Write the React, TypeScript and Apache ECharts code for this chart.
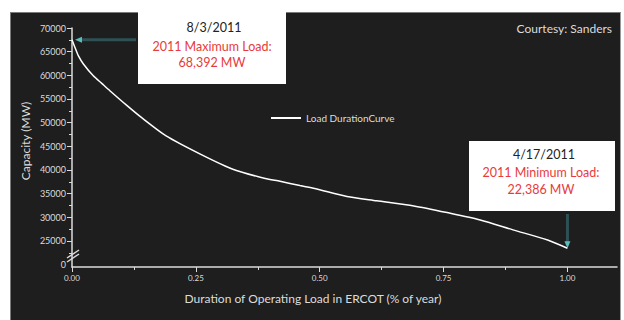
import React, { useEffect, useRef } from "react";
import * as echarts from "echarts";

const durationShare: number[] = [
  0, 0.006, 0.013, 0.023, 0.043, 0.06, 0.077, 0.11, 0.14, 0.19, 0.26, 0.326,
  0.39, 0.42, 0.46, 0.49, 0.555, 0.615, 0.69, 0.757, 0.824, 0.89, 0.96, 1.0,
];
const capacityMW: number[] = [
  67500, 65900, 64100, 62400, 59900, 58300, 56700, 53700, 51100, 47200, 43300,
  40100, 38200, 37600, 36700, 36100, 34400, 33500, 32400, 31000, 29450, 27350,
  25200, 23450,
];
const yMajorTicks: number[] = [25000, 30000, 35000, 40000, 45000, 50000, 55000, 60000, 65000, 70000];
const yMinorTicks: number[] = [22500, 27500, 32500, 37500, 42500, 47500, 52500, 57500, 62500, 67500];
const yLabelValues: number[] = [20000, ...yMajorTicks];
const xMajorTicks: number[] = [0, 0.25, 0.5, 0.75, 1.0];
const xMinorTicks: number[] = [0.125, 0.375, 0.625, 0.875];

const seriesName = "Load DurationCurve";
const maxDate = "8/3/2011";
const maxLabel = "2011 Maximum Load:";
const maxValue = "68,392 MW";
const minDate = "4/17/2011";
const minLabel = "2011 Minimum Load:";
const minValue = "22,386 MW";
const courtesy = "Courtesy: Sanders";
const xName = "Duration of Operating Load in ERCOT (% of year)";
const yName = "Capacity (MW)";

const FONT = "Lato, 'Open Sans', sans-serif";
const AX = "#dcdcdc";
const RED = "#e83a3c";

export default function App() {
  const ref = useRef<HTMLDivElement>(null);
  useEffect(() => {
    if (!ref.current) return;
    const chart = echarts.init(ref.current, undefined, { renderer: "svg" });
    const data = durationShare.map((x, i) => [x, capacityMW[i]]);
    const axisCommon = {
      min: 19500,
      max: 70000,
      splitLine: { show: false },
    };
    chart.setOption({
      animation: false,
      backgroundColor: "transparent",
      textStyle: { fontFamily: FONT },
      grid: { left: 72, right: 7, top: 28, bottom: 53, containLabel: false },
      legend: {
        left: 266,
        top: 108,
        itemWidth: 30,
        itemHeight: 2,
        icon: "rect",
        itemStyle: { color: "#ffffff" },
        textStyle: { color: AX, fontSize: 10, fontFamily: FONT },
        data: [seriesName],
      },
      xAxis: [
        {
          type: "value",
          min: 0,
          max: 1.1,
          position: "bottom",
          splitLine: { show: false },
          axisLine: { show: true, lineStyle: { color: AX, width: 1.5 } },
          axisTick: { show: true, length: 5, customValues: xMajorTicks, lineStyle: { color: AX } },
          axisLabel: {
            customValues: xMajorTicks,
            formatter: (v: number) => v.toFixed(2),
            color: AX,
            fontSize: 8,
            margin: 7,
            fontFamily: FONT,
          },
        },
        {
          type: "value",
          min: 0,
          max: 1.1,
          position: "bottom",
          splitLine: { show: false },
          axisLine: { show: false },
          axisTick: { show: true, length: 3, customValues: xMinorTicks, lineStyle: { color: AX } },
          axisLabel: { show: false },
        },
      ],
      yAxis: [
        {
          type: "value",
          ...axisCommon,
          position: "left",
          axisLine: { show: true, lineStyle: { color: AX, width: 1.5 } },
          axisTick: { show: true, length: 5, customValues: yMajorTicks, lineStyle: { color: AX } },
          axisLabel: {
            customValues: yLabelValues,
            formatter: (v: number) => (v === 20000 ? "0" : String(v)),
            color: AX,
            fontSize: 9,
            margin: 6,
            fontFamily: FONT,
          },
        },
        {
          type: "value",
          ...axisCommon,
          position: "left",
          axisLine: { show: false },
          axisTick: { show: true, length: 3, customValues: yMinorTicks, lineStyle: { color: AX } },
          axisLabel: { show: false },
        },
      ],
      series: [
        {
          name: seriesName,
          type: "line",
          data,
          symbol: "none",
          smooth: 0.25,
          lineStyle: { color: "#ffffff", width: 1.5 },
          itemStyle: { color: "#ffffff" },
        },
      ],
    });

    const p0 = chart.convertToPixel({ gridIndex: 0 }, data[0]) as number[];
    const p1 = chart.convertToPixel({ gridIndex: 0 }, data[data.length - 1]) as number[];
    const txt = (text: string, x: number, y: number, color: string, size = 12.5, align = "center") => ({
      type: "text",
      x,
      y,
      z: 20,
      style: {
        text,
        fill: color,
        fontSize: size,
        fontFamily: FONT,
        textAlign: align,
        textVerticalAlign: "middle",
      },
    });
    chart.setOption({
      graphic: [
        { type: "rect", z: 15, shape: { x: 138, y: 12, width: 148, height: 72 }, style: { fill: "#ffffff" } },
        txt(maxDate, 214, 27, "#222222"),
        txt(maxLabel, 212, 46, RED),
        txt(maxValue, 212, 62, RED),
        { type: "rect", z: 15, shape: { x: 469, y: 141, width: 146, height: 70 }, style: { fill: "#ffffff" } },
        txt(minDate, 544, 154, "#222222"),
        txt(minLabel, 541, 172, RED),
        txt(minValue, 541, 189, RED),
        txt(courtesy, 612, 28, AX, 12, "right"),
        txt(xName, 313, 298, AX, 12),
        {
          type: "text",
          x: 25,
          y: 141,
          rotation: Math.PI / 2,
          z: 20,
          style: { text: yName, fill: AX, fontSize: 12, fontFamily: FONT, textAlign: "center", textVerticalAlign: "middle" },
        },
        // arrow to maximum
        {
          type: "line",
          z: 18,
          shape: { x1: p0[0] + 64, y1: p0[1], x2: p0[0] + 9, y2: p0[1] },
          style: { stroke: "#2e5156", lineWidth: 3 },
        },
        {
          type: "polygon",
          z: 18,
          shape: { points: [[p0[0] + 3, p0[1]], [p0[0] + 10, p0[1] - 3], [p0[0] + 10, p0[1] + 3]] },
          style: { fill: "#5cbcbc" },
        },
        // arrow to minimum
        {
          type: "line",
          z: 18,
          shape: { x1: p1[0], y1: 214, x2: p1[0], y2: p1[1] - 6 },
          style: { stroke: "#2e5156", lineWidth: 3 },
        },
        {
          type: "polygon",
          z: 18,
          shape: { points: [[p1[0], p1[1]], [p1[0] - 3, p1[1] - 7], [p1[0] + 3, p1[1] - 7]] },
          style: { fill: "#5cbcbc" },
        },
        // axis break marks
        { type: "line", z: 18, shape: { x1: 67, y1: 258, x2: 79, y2: 250 }, style: { stroke: AX, lineWidth: 1.5 } },
        { type: "line", z: 18, shape: { x1: 67, y1: 262, x2: 79, y2: 254 }, style: { stroke: AX, lineWidth: 1.5 } },
      ],
    });
    return () => chart.dispose();
  }, []);

  return (
    <div style={{ position: "absolute", left: 0, top: 0, width: 624, height: 320, background: "#ffffff", overflow: "hidden" }}>
      <div
        style={{
          position: "absolute",
          left: 10,
          top: 12,
          width: 609,
          height: 308,
          background: "#1e1e1e",
          borderTop: "1px solid #7a7a7a",
          borderLeft: "1px solid #7a7a7a",
          borderRight: "1px solid #9a9a9a",
        }}
      />
      <div ref={ref} style={{ position: "absolute", left: 0, top: 0, width: 624, height: 320 }} />
    </div>
  );
}
